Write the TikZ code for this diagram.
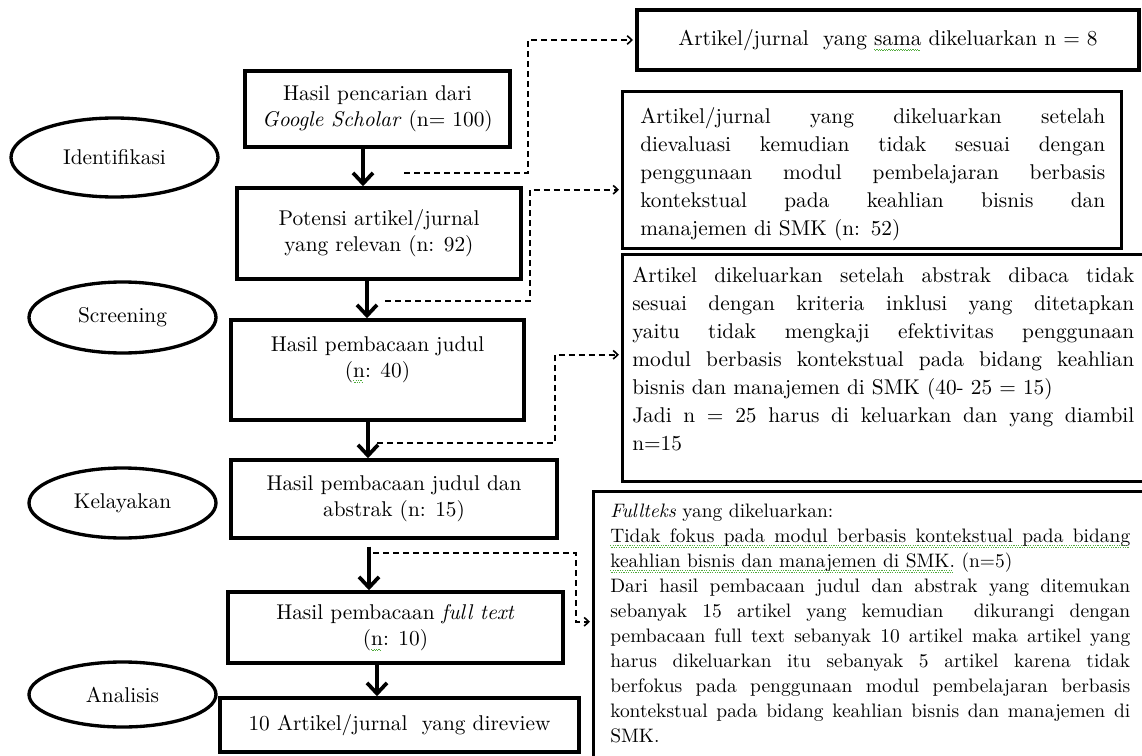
\documentclass[tikz,border=0pt]{standalone}
\usepackage{fontspec}
\setmainfont{lmroman10}[Extension=.otf,UprightFont=*-regular,ItalicFont=*-italic,BoldFont=*-bold,BoldItalicFont=*-bolditalic]
\usetikzlibrary{arrows.meta,shapes.geometric}
\definecolor{spell}{RGB}{80,170,60}
\newcommand\pxu{0.75pt}
\newsavebox\gwbox
\newsavebox\jlbox
\newcommand\gw[1]{\leavevmode\sbox\gwbox{#1}\rlap{\textcolor{spell}{\leaders\hbox{\rule[-3pt]{0.9pt}{0.6pt}\rule[-3.8pt]{0.9pt}{0.6pt}}\hskip\wd\gwbox}}\usebox\gwbox}
% one justified line: spaces get explicit stretchable glue
\newcommand\jline[2]{\leavevmode\hbox to #1{\spaceskip=0.333em plus 2em minus 0.12em\relax\xspaceskip=\spaceskip #2}}
\newcommand\jB[1]{\jline{348.75pt}{#1}}
\newcommand\jC[1]{\jline{376.5pt}{#1}}
\newcommand\jD[1]{\jline{390pt}{#1}}
\newcommand\fbig{\fontsize{16}{19.5}\selectfont}
\newcommand\fpar{\fontsize{16}{21}\selectfont\parindent=0pt}
\newcommand\fD{\fontsize{14.6}{18.75}\selectfont\parindent=0pt}
\begin{document}
\begin{tikzpicture}[x=0.75pt,y=-0.75pt,line join=miter,
  box/.style={draw,line width=2.6pt,rectangle,inner sep=0pt,align=center,font=\fbig},
  oval/.style={draw,line width=2.5pt,ellipse,inner sep=0pt,font=\fbig},
  flow/.style={line width=2.8pt,-{Straight Barb[length=8pt,width=15pt]}},
  dashconn/.style={line width=1.2pt,dash pattern=on 4.5pt off 3pt,shorten >=1.5pt,-{Straight Barb[length=3.5pt,width=6.5pt,line width=1.2pt]}},
  txt/.style={inner sep=0pt,anchor=north west,align=left}]
\path[use as bounding box] (0,0) rectangle (1142,756);
\clip (0,0) rectangle (1142,756);

% phase ellipses
\node[oval,minimum width={207*\pxu},minimum height={79*\pxu}] (identifikasi) at (114.5,157.5) {Identifikasi};
\node[oval,minimum width={187*\pxu},minimum height={71*\pxu}] (screening) at (122.5,317.5) {Screening};
\node[oval,minimum width={187*\pxu},minimum height={70*\pxu}] (kelayakan) at (122.5,503) {Kelayakan};
\node[oval,minimum width={187*\pxu},minimum height={65*\pxu}] (analisis) at (122.5,694.5) {Analisis};

% flow boxes
\node[box,minimum width={265*\pxu},minimum height={76*\pxu}] (b1) at (377.5,109) {Hasil pencarian dari\\\textit{Google Scholar} (n= 100)};
\node[box,minimum width={284*\pxu},minimum height={91*\pxu}] (b2) at (379,233.5) {Potensi artikel/jurnal\\yang relevan (n: 92)};
\node[box,minimum width={293*\pxu},minimum height={100*\pxu}] (b3) at (377.5,370) {};
\node[inner sep=0pt,align=center,font=\fbig] (b3t) at (377.5,359.5) {Hasil pembacaan judul\\(\gw{n}: 40)};
\node[box,minimum width={326*\pxu},minimum height={78*\pxu}] (b4) at (394,499) {Hasil pembacaan judul dan\\abstrak (n: 15)};
\node[box,minimum width={335*\pxu},minimum height={71*\pxu}] (b5) at (395.5,627.5) {Hasil pembacaan \textit{full text}\\(\gw{n}: 10)};
\node[box,minimum width={359*\pxu},minimum height={54*\pxu}] (b6) at (399.5,725) {10 Artikel/jurnal\ \ yang direview};

% exclusion boxes
\node[box,line width=3pt,minimum width={502*\pxu},minimum height={60*\pxu}] (ra) at (888,40) {Artikel/jurnal\ \ yang \gw{sama} dikeluarkan n = 8};
\node[box,anchor=north west,minimum width={499*\pxu},minimum height={157*\pxu}] (rb) at (621,90) {};
\node[txt,text width={465*\pxu},font=\fpar] (rbt) at (640,107) {\jB{Artikel/jurnal yang dikeluarkan setelah}\\
\jB{dievaluasi kemudian tidak sesuai dengan}\\
\jB{penggunaan modul pembelajaran berbasis}\\
\jB{kontekstual pada keahlian bisnis dan}\\
manajemen di SMK (n: 52)};
\node[box,anchor=north west,minimum width={530*\pxu},minimum height={227*\pxu}] (rc) at (621,253) {};
\node[txt,text width={502*\pxu},font=\fpar] (rct) at (632,267) {\jC{Artikel dikeluarkan setelah abstrak dibaca tidak}\\
\jC{sesuai dengan kriteria inklusi yang ditetapkan}\\
\jC{yaitu tidak mengkaji efektivitas penggunaan}\\
\jC{modul berbasis kontekstual pada bidang keahlian}\\
bisnis dan manajemen di SMK (40- 25 = 15)\\
\jC{Jadi n = 25 harus di keluarkan dan yang diambil}\\
n=15};
\node[box,anchor=north west,minimum width={560*\pxu},minimum height={300*\pxu}] (rd) at (592,490) {};
\node[txt,text width={520*\pxu},font=\fD] (rdt) at (610,503.5) {\textit{Fullteks} yang dikeluarkan:\\
\gw{\jD{Tidak fokus pada modul berbasis kontekstual pada bidang}}\\
\gw{keahlian bisnis dan manajemen di SMK.} (n=5)\\
\jD{Dari hasil pembacaan judul dan abstrak yang ditemukan}\\
\jD{sebanyak 15 artikel yang kemudian\ \ dikurangi dengan}\\
\jD{pembacaan full text sebanyak 10 artikel maka artikel yang}\\
\jD{harus dikeluarkan itu sebanyak 5 artikel karena tidak}\\
\jD{berfokus pada penggunaan modul pembelajaran berbasis}\\
\jD{kontekstual pada bidang keahlian bisnis dan manajemen di}\\
SMK.};

% flow arrows
\draw[flow] ([xshift=-14.5*\pxu]b1.south) -- ([xshift=-14.5*\pxu]b1.south |- b2.north);
\draw[flow] ([xshift=-12*\pxu]b2.south) -- ([xshift=-12*\pxu]b2.south |- b3.north);
\draw[flow] ([xshift=-9.5*\pxu]b3.south) -- ([xshift=-9.5*\pxu]b3.south |- b4.north);
\draw[flow] ([xshift=-25*\pxu,yshift=-7*\pxu]b4.south) -- ([xshift=-25*\pxu]b4.south |- b5.north);
\draw[flow] ([xshift=-18.5*\pxu]b5.south) -- ([xshift=-18.5*\pxu]b5.south |- b6.north);

% dashed exclusion connectors
\coordinate (d1s) at (404,173); \coordinate (d1k) at (528,173);
\coordinate (d2s) at (385,301); \coordinate (d2k) at (530,301);
\coordinate (d3s) at (377,443); \coordinate (d3k) at (555,443);
\coordinate (d4s) at (373,553); \coordinate (d4k) at (576,553);
\draw[dashconn] (d1s) -- (d1k) |- (ra.west);
\draw[dashconn] (d2s) -- (d2k) |- ([yshift=-19.5*\pxu]rb.west);
\draw[dashconn] (d3s) -- (d3k) |- ([yshift=13.5*\pxu]rc.west);
\draw[dashconn] (d4s) -- (d4k) |- ([yshift=20*\pxu]rd.west);
\end{tikzpicture}
\end{document}
